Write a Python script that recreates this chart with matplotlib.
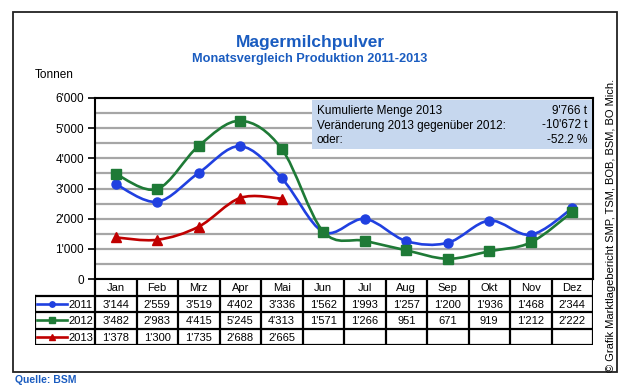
import matplotlib
matplotlib.use("Agg")
import matplotlib.pyplot as plt
from matplotlib.path import Path
from matplotlib.patches import PathPatch, Rectangle
import numpy as np

months = ["Jan", "Feb", "Mrz", "Apr", "Mai", "Jun", "Jul", "Aug", "Sep", "Okt", "Nov", "Dez"]
years = ["2011", "2012", "2013"]
v2011 = [3144, 2559, 3519, 4402, 3336, 1562, 1993, 1257, 1200, 1936, 1468, 2344]
v2012 = [3482, 2983, 4415, 5245, 4313, 1571, 1266, 951, 671, 919, 1212, 2222]
v2013 = [1378, 1300, 1735, 2688, 2665]
yticks = [0, 1000, 2000, 3000, 4000, 5000, 6000]
info_labels = ["Kumulierte Menge 2013", "Veränderung 2013 gegenüber 2012:", "oder:"]
info_values = ["9'766 t", "-10'672 t", "-52.2 %"]

colors = ["#2040e0", "#1e7a36", "#c00000"]
markers = ["o", "s", "^"]
msizes = [6.5, 7, 7.5]
series = [v2011, v2012, v2013]

plt.rcParams["font.family"] = ["Liberation Sans", "DejaVu Sans"]

W, H = 620, 386
fig = plt.figure(figsize=(W / 100, H / 100), dpi=100)


def fx(x):
    return x / W


def fy(y):
    return 1 - y / H


def fmt(v):
    return f"{v:,}".replace(",", "'")


def smooth_path(xs, ys):
    pts = np.column_stack([xs, ys]).astype(float)
    n = len(pts)
    verts = [pts[0]]
    codes = [Path.MOVETO]
    for i in range(n - 1):
        p0 = pts[i - 1] if i > 0 else pts[i]
        p1 = pts[i]
        p2 = pts[i + 1]
        p3 = pts[i + 2] if i + 2 < n else pts[i + 1]
        c1 = p1 + (p2 - p0) / 6.0
        c2 = p2 - (p3 - p1) / 6.0
        verts += [c1, c2, p2]
        codes += [Path.CURVE4] * 3
    return Path(verts, codes)


# outer frame
fig.patches.append(Rectangle((fx(13), fy(372)), fx(617) - fx(13), fy(12) - fy(372),
                             transform=fig.transFigure, fill=False, ec="#222222", lw=1.3))

# main axes
ax = fig.add_axes([fx(95), fy(279), fx(593) - fx(95), fy(98) - fy(279)])
x = np.arange(len(months))
for vals, c, m, ms in zip(series, colors, markers, msizes):
    xs = x[:len(vals)]
    ax.add_patch(PathPatch(smooth_path(xs, vals), fill=False, ec=c, lw=1.9, zorder=3))
    ax.plot(xs, vals, ls="none", marker=m, ms=ms, color=c, mec=c, zorder=4)

ax.set_xlim(-0.5, 11.5)
ax.set_ylim(0, 6000)
ax.set_yticks(yticks)
ax.set_yticklabels([fmt(v) for v in yticks], fontsize=8.5)
ax.set_yticks(np.arange(500, 6000, 1000), minor=True)
ax.yaxis.grid(True, which="both", color="#a6a6a6", lw=1.6)
ax.set_axisbelow(True)
ax.tick_params(axis="y", which="major", length=5, width=1.2, direction="out", pad=3)
ax.tick_params(axis="y", which="minor", length=0)
ax.set_xticks([])
for s in ax.spines.values():
    s.set_linewidth(1.5)
    s.set_color("black")

# info box
ax.add_patch(Rectangle((fx(312), fy(149)), fx(592) - fx(312), fy(100) - fy(149),
                       transform=fig.transFigure, fc="#c6d7ee", ec="none", zorder=5))
for i, (lab, val) in enumerate(zip(info_labels, info_values)):
    yy = fy(111 + i * 14.5)
    fig.text(fx(317), yy, lab, fontsize=8.5, va="center", ha="left", zorder=6)
    fig.text(fx(587), yy, val, fontsize=8.5, va="center", ha="right", zorder=6)

# table
left_edge = -0.5 - 60 / 41.5
tx = fig.add_axes([fx(35), fy(345), fx(593) - fx(35), fy(279) - fy(345)])
tx.set_xlim(left_edge, 11.5)
tx.set_ylim(4, 0)
tx.axis("off")
tlw = 1.6
for r in range(1, 5):
    tx.plot([left_edge, 11.5], [r, r], color="black", lw=tlw, solid_capstyle="projecting")
tx.plot([left_edge, left_edge], [1, 4], color="black", lw=tlw, solid_capstyle="projecting")
for k in range(13):
    tx.plot([k - 0.5, k - 0.5], [0, 4], color="black", lw=tlw, solid_capstyle="projecting")
for i, m in enumerate(months):
    tx.text(i, 0.55, m, ha="center", va="center", fontsize=8)
for r, (vals, c, m, ms, yr) in enumerate(zip(series, colors, markers, msizes, years)):
    yy = r + 1.55
    tx.plot([left_edge + 0.06, left_edge + 0.76], [yy - 0.05, yy - 0.05], color=c, lw=1.9)
    tx.plot([left_edge + 0.41], [yy - 0.05], marker=m, ms=ms * 0.6, color=c, ls="none")
    tx.text(-0.55, yy, yr, ha="right", va="center", fontsize=8)
    for i, v in enumerate(vals):
        tx.text(i, yy, fmt(v), ha="center", va="center", fontsize=8)

# titles
fig.text(0.5, fy(42), "Magermilchpulver", ha="center", va="center", fontsize=12.5,
         fontweight="bold", color="#1a5cc0")
fig.text(0.5, fy(59), "Monatsvergleich Produktion 2011-2013", ha="center", va="center",
         fontsize=9.2, fontweight="bold", color="#1a5cc0")
fig.text(fx(35), fy(75), "Tonnen", ha="left", va="center", fontsize=8.5)
fig.text(fx(611), fy(225), "© Grafik Marktlagebericht SMP, TSM, BOB, BSM, BO Mich.",
         rotation=90, ha="center", va="center", fontsize=8)
fig.text(fx(15), fy(380), "Quelle: BSM", ha="left", va="center", fontsize=7.5,
         fontweight="bold", color="#1a5cc0")

fig.savefig("out.png", dpi=100)
